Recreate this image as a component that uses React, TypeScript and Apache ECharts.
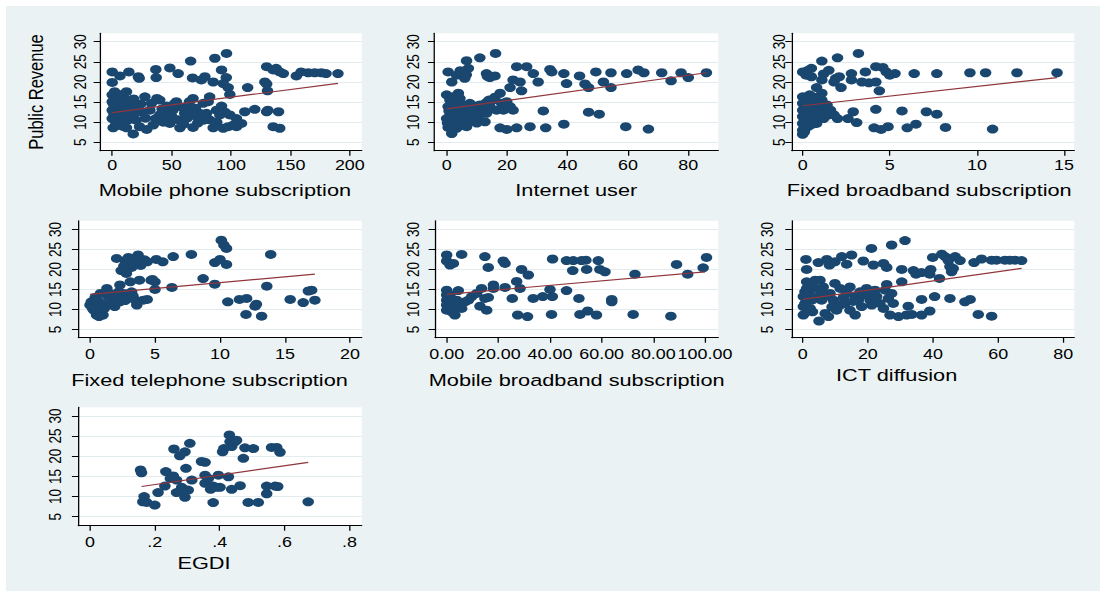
import React, { useEffect, useRef } from 'react';
import * as echarts from 'echarts';

// ---------------- DATA ----------------
const yTicks = [5, 10, 15, 20, 25, 30];

const mobileTicks = [0, 50, 100, 150, 200];
const internetTicks = [0, 20, 40, 60, 80];
const fixedBbTicks = [0, 5, 10, 15];
const fixedTelTicks = [0, 5, 10, 15, 20];
const mobileBbTicks = [0, 20, 40, 60, 80, 100];
const ictTicks = [0, 20, 40, 60, 80];
const egdiTicks = [0, 0.2, 0.4, 0.6, 0.8];

const mobilePhone: number[][] = [
  [0,22.5],[0,19.9],[6.5,21.5],[14,22.5],[22,21.3],[22.7,20.9],[36.7,23.1],[37,21.1],[48.5,23.5],[55.5,22.1],[66,25.2],[67.6,21],[75,20.5],[78,21.3],[86.4,25.9],[85,20],[92,23],[96.2,27.1],[96,21.1],[93.4,19.6],[97.6,18.6],[99,16.9],[114,18.6],[128.5,20],[130,23.8],[135.5,23],[138,23.4],[141,22.5],[144,22.1],[130,19.5],[130.7,17.8],[155,21.5],[159,22.5],[165,22.3],[170.5,22.3],[176,22.3],[180,22.1],[190,22.1],[130,12.6],[131,13],[140,12.6],[120,13.2],[111.6,12.6],[135.5,8.9],[141,8.5],[82,16.3],
  [0,16.8],[2,17.6],[0,15.1],[2,13.9],[0,13],[3.6,12.2],[0,10.9],[2.2,11.8],[6.5,10.1],[0.8,8.6],[9,9],[12,8.6],[10.7,15.5],[12,17.6],[16,15.5],[15,13.9],[19,14.7],[20.5,13],[17.7,11.8],[23,8.9],[17.7,7.1],[29,8.2],[27.5,16.3],[31.7,13],[33,14.7],[36.6,10.9],[37.6,15.9],[40,15.5],[40,11.8],[34.5,9.3],[45.7,11.8],[48.5,9.7],[51,13],[52.7,14.7],[54,15.1],[55.5,10.6],[57,8.6],[61,12.2],[62.5,13.4],[65,15.1],[66.8,12.2],[68,15.9],[71,11.4],[73.8,12.2],[76.6,14.7],[79.4,12.2],[80.8,15.1],[82,10.6],[85,8.6],[87.8,13],[90.6,11.8],[93.4,8.5],[99,11.8],[97.6,8.9],[101.8,9.3],[104.6,8.9],[104.6,10.9],[108.8,9.7],
  [4,14.5],[6,12.8],[8,14],[5,16],[3,10],[7,11.5],[10,12.5],[12,13.5],[1,14.5],[5,11],[9,16.5],[13,10.5],[25,12.5],[28,11],[43,10],[46,14],[58,13.8],[63,11],[70,13.5],[72,9.8],[77,10.5],[88,10],[60,9.5],[92,14],[95,12.5],[68,8.7],[50,11.5],[42,13.3],[24,14.5],[20,10.5],
  [1.5,12],[3,15.5],[6,14],[8,12],[10,14.2],[4,9.2],[14,12.2],[16,12.8],[7,16.8],[18,15.8],[2.5,10.8],[11,11.2]
];
const internetUser: number[][] = [
  [0.5,22.5],[1.7,20],[6.6,25.3],[7.2,23.4],[5.5,22.1],[3.3,21.7],[6,20.9],[11,26],[16.2,27.1],[13.2,22.1],[14.3,21.1],[16,21.5],[23.2,23.8],[26.5,23.8],[28.7,22.1],[22,20.5],[24.3,20],[30.3,20],[21,18.6],[24.8,17.8],[17.7,17.2],[34.2,23.1],[34.8,22.5],[38.8,22.1],[44,21.5],[39.7,19.6],[45.8,19.5],[47,18.6],[49.4,22.5],[51.9,20],[54.4,22.3],[54.4,18.6],[59.6,22.1],[63.4,23],[65.3,22.3],[71.2,22.3],[74.3,20.3],[77.6,22.3],[80,21.1],[86,22.3],[32,12.8],[47,12.5],[50.5,12],[17.7,8.6],[19.9,8.2],[23.2,8.6],[27.6,8.9],[32.8,8.6],[38.8,9.5],[59.3,8.9],[66.8,8.3],
  [0,16.8],[1.1,15.5],[2.2,16.3],[3.9,17.2],[4.4,15.9],[0.5,13.9],[1.7,12.2],[0,10.9],[2.2,10.1],[0.5,8.7],[1.7,7.2],[3.3,8.5],[6.6,8.9],[4.4,11.8],[6,13],[7.7,14.7],[8.8,10.9],[9.9,13],[11,14.3],[12.7,10.1],[13.2,12.2],[14.3,13.9],[15.4,15.5],[16.5,13],[18.2,14.7],[18.8,13],[21,13.9],[22,13],[19.9,15.1],[7.7,10.9],[3.3,13],[5,10.6],[9.4,11.8],
  [2.8,14.8],[1,11.5],[3,9.5],[5.5,14.2],[8,12.5],[10.5,11.5],[12,13],[4.5,22.8],[6.5,21.8],[14,15.5],[16,16.2],[2,12.5],[0.3,9.8],[10,9.8],[13.5,21.4],
  [1.2,14.2],[2.5,11.2],[4,13.8],[6,12],[7,9.8],[9,14],[11.5,12.5],[13,14.8],[3.5,16.4],[0.8,12.8],[5.5,9.2],[8.5,13.5]
];
const fixedBroadband: number[][] = [
  [0,22.5],[0.2,21.7],[0.3,22.9],[0.5,23.4],[0.5,21.3],[1.1,25.2],[0.8,18.6],[1.1,20.5],[1.2,22],[1.5,22.9],[1.1,17.2],[2,26],[1.9,20.9],[2.1,21.3],[2.2,18.6],[1.8,20],[2.8,22.1],[2.8,20.5],[3.2,27.1],[3.4,20],[3.6,22.5],[3.8,19.8],[4.2,23.8],[4.2,20],[4.6,23.6],[4.8,22.5],[5,21.7],[5.3,22.1],[4.4,17.8],[6.4,22.1],[7.7,22.1],[9.6,22.3],[10.5,22.3],[12.3,22.3],[14.6,22.3],
  [4.2,13.2],[5.7,12.8],[7.1,12.6],[7.7,12],[2.9,12.6],[2.6,10.9],[3.1,9.9],[4.1,8.6],[4.5,8.2],[4.9,8.9],[6,8.6],[6.5,9.5],[8.2,8.7],[10.9,8.3],[2,10.9],[1.8,11.8],
  [0,16.3],[0,14.7],[0,13],[0,11.4],[0,9.7],[0,8],[0,7],[0.2,15.5],[0.2,12.2],[0.2,10.6],[0.3,8.9],[0.5,13.9],[0.6,11.8],[0.8,15.1],[0.9,12.6],[1.1,13.4],[1.2,10.9],[1.4,14.3],[1.5,11.8],[1.1,15.5],[0.8,9.7],[1.6,13],[0.4,16.8],[0.1,7.6],[0.3,14.2],[0.6,13.1],[0.1,11],[0.4,10],[1,12],[0.7,16.2],
  [0.1,12.5],[0.3,11.5],[0.5,9.4],[0.7,10.8],[0.9,14.6],[1.3,12.4],[0.2,13.6],[0.4,15.2]
];
const fixedTelephone: number[][] = [
  [2.05,22.75],[2.95,23],[3.7,23.6],[4.4,21.9],[5.1,22.5],[5.6,21.9],[6.4,23.2],[7.8,23.75],[3.3,21.5],[2.4,19.7],[2.8,19],[3.1,16.9],[3.8,17.3],[4.7,17.3],[5,16.9],[2.3,16.1],[5,15],[6.3,15.5],[8.7,17.7],[9.6,16.3],[9.6,21.7],[10,22.5],[10.5,21.25],[10.1,27.3],[10.3,26.1],[10.5,25.25],[13.9,23.75],[13.6,15.8],[10.6,11.9],[11.5,12.5],[12.05,12.75],[12,8.75],[12.8,11.3],[12.7,10.8],[13.2,8.3],[15.4,12.5],[16.4,11.7],[16.8,14.6],[17.05,14.8],[17.3,12.3],
  [0,11.1],[0.1,11.9],[0.4,13],[0.5,10.7],[0.5,8.6],[0.8,9.4],[1,8.6],[0.9,11.5],[1.3,15.25],[1.4,13.2],[1.8,12.75],[1.9,10.7],[2.3,11.9],[2.6,14],[2.9,12.75],[3.2,14.4],[3.5,12.3],[4.1,12.3],[4.4,12.5],[1.5,14],[2.2,14.4],[0.8,14],[3.6,11.1],[0.3,9.8],
  [2.7,22.2],[3.2,20.5],[2.6,20.8],[3.5,22.8],[4.2,22.4],[4.8,17.5],[0.6,12.2],[1.1,10.2],[2,13.5],[2.7,12.2],[3.3,13.4],[0.2,10.2],[0.7,8.2],[1.6,11.5],[3.9,21]
];
const mobileBroadband: number[][] = [
  [0,23.6],[5.8,23.75],[0,22.1],[1.3,21.1],[2.6,21.5],[14.8,23.2],[16.1,20.5],[21.9,22.1],[22.6,21.5],[29,20],[31.6,18.6],[27.1,17],[28.4,15.25],[22.6,15.5],[18.1,16.1],[18.1,15.25],[13.5,15.25],[41,22.6],[46.4,22.2],[49,22.2],[52.2,22.2],[53.9,22.3],[58.7,22.2],[48.8,19.7],[54.2,20],[59.3,20],[61.3,19.4],[72.9,18.8],[89,21.25],[93.3,18.8],[99.3,20.4],[100.6,23],[40,15],[46.4,14.7],[40.9,13.2],[33.5,12.75],[37.2,13.2],[25.4,12.75],[51.2,12.75],[63.9,12.5],[63.9,11.9],[27.5,8.6],[31.3,8.2],[40.6,8.75],[51.6,8.75],[54.6,9.6],[58,8.6],[72.2,8.75],[86.8,8.3],
  [0,14.8],[0,13.6],[0,12.3],[0,11.1],[0,9.8],[1.3,11.9],[1.9,10.7],[3.2,8.6],[3.9,12.3],[4.5,14.7],[5.2,11.5],[5.8,10.25],[7.1,11.9],[8.4,12.3],[9.7,13.2],[11.6,14],[12.9,10.8],[14.8,12.75],[15.5,9.8],[16.1,13],[1.3,13.6],[1.9,9.4]
];
const ictDiffusion: number[][] = [
  [1,22.5],[1.2,20],[4.8,21.7],[7.4,22.5],[8.2,21.1],[9.9,21.9],[12,23.2],[13.5,21.3],[15,23.6],[18.6,22.1],[21.1,25.25],[21.7,21.1],[24.8,21.5],[25.8,20.5],[27.3,26.1],[31.4,27.2],[30.4,20],[30.4,16.9],[34,19.7],[34.8,18.8],[36.5,19.2],[39,18.8],[39.3,20],[39.9,23],[42,17.75],[42.7,23.8],[43.7,23.2],[44.7,22.2],[45.2,20.7],[45.7,19.4],[46.8,23.2],[46.2,20.25],[48.3,22.2],[52.6,21.7],[54.9,22.6],[58,22.3],[59.5,22.3],[62.1,22.3],[63.6,22.3],[65.2,22.3],[67.2,22.2],[25.8,16.25],[36.5,12.5],[40.5,13.2],[45.2,12.75],[49.8,11.9],[51.4,12.5],[32.4,10.8],[39,9.6],[36.5,8.6],[31.9,8.6],[33.5,8.75],[29.4,8.2],[26.8,8.6],[53.9,8.75],[58,8.3],[5,7.1],
  [0.2,13.2],[0.7,14.4],[1.2,16.9],[1.2,15.25],[0.7,11.5],[0.2,10.7],[0.2,8.6],[2.3,10.25],[2.8,12.3],[3.3,15.6],[3.8,17.3],[5.3,17.3],[5.3,14.8],[5.8,12.3],[6.3,15.6],[6.9,9],[7.9,8.2],[8.4,14],[9.4,12.3],[9.9,16.5],[10.4,9.8],[11.5,15.25],[11.5,11.1],[13,11.5],[13.5,14],[14.5,15.6],[14.5,9.8],[16.1,8.6],[16.1,13.2],[17.1,12.3],[17.6,14.4],[18.1,10.7],[19.1,13.6],[19.6,15.25],[20.7,12.3],[21.2,11.1],[22.2,14.8],[22.7,13.2],[23.7,11.5],[24.8,10.25],[25.3,14.8],[26.3,12.75],[27.3,14],[27.8,11.5],
  [2,14.2],[4,13],[3,9.4],[7,13.4],[15.5,12],[12.5,13],[20,14.2],[9,10.6]
];
const egdi: number[][] = [
  [0.156,16.6],[0.159,15.9],[0.167,10],[0.163,8.7],[0.175,8.55],[0.2,7.9],[0.21,11],[0.231,12.6],[0.234,16.2],[0.248,14.5],[0.259,21.8],[0.257,15.1],[0.267,14.1],[0.277,20.1],[0.283,12.3],[0.267,11],[0.277,11.2],[0.293,21.1],[0.296,17],[0.293,9.8],[0.303,11.6],[0.308,23.2],[0.314,14.1],[0.344,18.7],[0.355,18.5],[0.355,15.3],[0.355,13.3],[0.365,14.5],[0.372,11.8],[0.38,12.6],[0.38,8.5],[0.39,12.3],[0.396,15.3],[0.401,12.3],[0.409,21.1],[0.413,21.9],[0.427,14.9],[0.43,25.3],[0.432,23.6],[0.437,22.4],[0.437,11.8],[0.447,23.6],[0.452,24],[0.473,19.5],[0.463,12.7],[0.478,22.1],[0.488,8.55],[0.504,21.9],[0.519,8.55],[0.545,12.6],[0.545,10.7],[0.56,22.2],[0.576,22.2],[0.571,12.6],[0.586,21],[0.579,12.5],[0.673,8.7]
];

// fitted-value line end points [x, y]
const mobileFit = [[0, 12.4], [190, 19.65]];
const internetFit = [[0, 13.3], [86, 22.3]];
const fixedBbFit = [[0, 14.1], [14.6, 21.1]];
const fixedTelFit = [[0, 13.75], [17.3, 18.8]];
const mobileBbFit = [[0, 13.75], [100, 19.4]];
const ictFit = [[0, 12.5], [67.2, 20.25]];
const egdiFit = [[0.159, 12.5], [0.673, 18.5]];

const xTitles = [
  'Mobile phone subscription', 'Internet user', 'Fixed broadband subscription',
  'Fixed telephone subscription', 'Mobile broadband subscription', 'ICT diffusion', 'EGDI'
];
const yTitle = 'Public Revenue';

// ---------------- LAYOUT ----------------
const CW = 860;
const CH = 591;
const S = 1100 / CW;
const FONT = '"Liberation Sans", Arial, Helvetica, sans-serif';

type Panel = {
  pts: number[][]; fit: number[][]; ticks: number[]; fmt?: (v: number) => string;
  L: number; R: number; T: number; B: number; xmin: number; xmax: number; ymin: number; ymax: number;
  yMargin: number; xMargin: number; nameGap: number; shift: number;
};

const panels: Panel[] = [
  { pts: mobilePhone, fit: mobileFit, ticks: mobileTicks, L: 100, R: 361.7, T: 33.3, B: 150.7, xmin: -10.3, xmax: 210, ymin: 2.92, ymax: 32.1, yMargin: 9, xMargin: 7, nameGap: 31, shift: 4.7 },
  { pts: internetUser, fit: internetFit, ticks: internetTicks, L: 434.3, R: 718.3, T: 33.3, B: 150.7, xmin: -4.08, xmax: 89.93, ymin: 2.92, ymax: 32.1, yMargin: 10, xMargin: 7, nameGap: 31, shift: 0 },
  { pts: fixedBroadband, fit: fixedBbFit, ticks: fixedBbTicks, L: 791.7, R: 1074.3, T: 33.3, B: 150.7, xmin: -0.63, xmax: 15.59, ymin: 2.92, ymax: 32.1, yMargin: 3, xMargin: 7, nameGap: 31, shift: 3 },
  { pts: fixedTelephone, fit: fixedTelFit, ticks: fixedTelTicks, L: 78.3, R: 361.7, T: 220.7, B: 337.7, xmin: -0.9, xmax: 20.9, ymin: 2.92, ymax: 32.17, yMargin: 11, xMargin: 9, nameGap: 34, shift: 8.2 },
  { pts: mobileBroadband, fit: mobileBbFit, ticks: mobileBbTicks, fmt: (v) => v.toFixed(2), L: 435, R: 718.3, T: 220.7, B: 337.7, xmin: -4.52, xmax: 105.16, ymin: 2.92, ymax: 32.17, yMargin: 10.5, xMargin: 9, nameGap: 34, shift: 0 },
  { pts: ictDiffusion, fit: ictFit, ticks: ictTicks, L: 791.7, R: 1074.3, T: 220.7, B: 337.7, xmin: -3.38, xmax: 83.38, ymin: 2.92, ymax: 32.17, yMargin: 12.5, xMargin: 9, nameGap: 29, shift: 28.4 },
  { pts: egdi, fit: egdiFit, ticks: egdiTicks, fmt: (v) => (Math.abs(v) < 1e-9 ? '0' : '.' + Math.round(v * 10)), L: 78.3, R: 361.7, T: 407.3, B: 525.7, xmin: -0.036, xmax: 0.838, ymin: 2.77, ymax: 32.15, yMargin: 11, xMargin: 9, nameGap: 29, shift: 12.5 },
];

function buildOption() {
  const grid: any[] = [];
  const xAxis: any[] = [];
  const yAxis: any[] = [];
  const series: any[] = [];
  panels.forEach((p, i) => {
    grid.push({
      left: p.L / S, top: p.T, width: (p.R - p.L) / S, height: p.B - p.T,
      show: true, backgroundColor: '#ffffff', borderWidth: 0, containLabel: false,
    });
    xAxis.push({
      gridIndex: i, type: 'value', min: p.xmin, max: p.xmax,
      name: xTitles[i], nameLocation: 'middle', nameGap: p.nameGap,
      nameTextStyle: { fontSize: 17, fontWeight: 'normal', color: '#000', fontFamily: FONT, padding: [0, 2 * p.shift, 0, 0] },
      axisLine: { show: true, onZero: false, lineStyle: { color: '#000', width: 1 } },
      axisTick: { show: true, length: 5, inside: false, customValues: p.ticks, lineStyle: { color: '#000', width: 1 } },
      axisLabel: { show: true, customValues: p.ticks, formatter: p.fmt ? p.fmt : (v: number) => String(v), margin: p.xMargin, fontSize: 14, color: '#000', fontFamily: FONT },
      splitLine: { show: false },
    });
    yAxis.push({
      gridIndex: i, type: 'value', min: p.ymin, max: p.ymax,
      name: i === 0 ? yTitle : '', nameLocation: 'middle', nameGap: 42,
      nameTextStyle: { fontSize: 16.5, fontWeight: 'normal', color: '#000', fontFamily: FONT },
      axisLine: { show: true, onZero: false, lineStyle: { color: '#000', width: 1 } },
      axisTick: { show: true, length: 5, inside: false, customValues: yTicks, lineStyle: { color: '#000', width: 1 } },
      axisLabel: { show: true, customValues: yTicks, rotate: 90, margin: p.yMargin, fontSize: 13.5, color: '#000', fontFamily: FONT },
      splitLine: { show: true, lineStyle: { color: '#E2EBEE', width: 1 } },
    });
    series.push({
      type: 'scatter', xAxisIndex: i, yAxisIndex: i, data: p.pts,
      symbol: 'circle', symbolSize: 9, itemStyle: { color: '#1A476F', opacity: 1 },
      silent: true, z: 2,
    });
    series.push({
      type: 'line', xAxisIndex: i, yAxisIndex: i, data: p.fit,
      symbol: 'none', showSymbol: false, lineStyle: { color: '#90353B', width: 1.2 },
      silent: true, z: 3,
    });
  });
  return {
    animation: false,
    backgroundColor: '#EAF2F3',
    textStyle: { fontFamily: FONT },
    grid, xAxis, yAxis, series,
    graphic: [
      { type: 'rect', left: 0, top: 0, shape: { x: 0, y: 0, width: CW, height: 6 }, style: { fill: '#ffffff' }, silent: true },
      { type: 'rect', left: 0, top: 0, shape: { x: 0, y: 0, width: 6 / S, height: CH }, style: { fill: '#ffffff' }, silent: true },
    ],
  };
}

export default function App() {
  const ref = useRef<HTMLDivElement>(null);
  useEffect(() => {
    if (!ref.current) return;
    const chart = echarts.init(ref.current, undefined, { renderer: 'svg' });
    chart.setOption(buildOption() as any);
    return () => chart.dispose();
  }, []);
  return (
    <div style={{ position: 'absolute', left: 0, top: 0, width: 1100, height: 591, overflow: 'hidden', background: '#fff' }}>
      <div
        ref={ref}
        style={{ width: CW, height: CH, transform: `scaleX(${S})`, transformOrigin: '0 0' }}
      />
    </div>
  );
}
